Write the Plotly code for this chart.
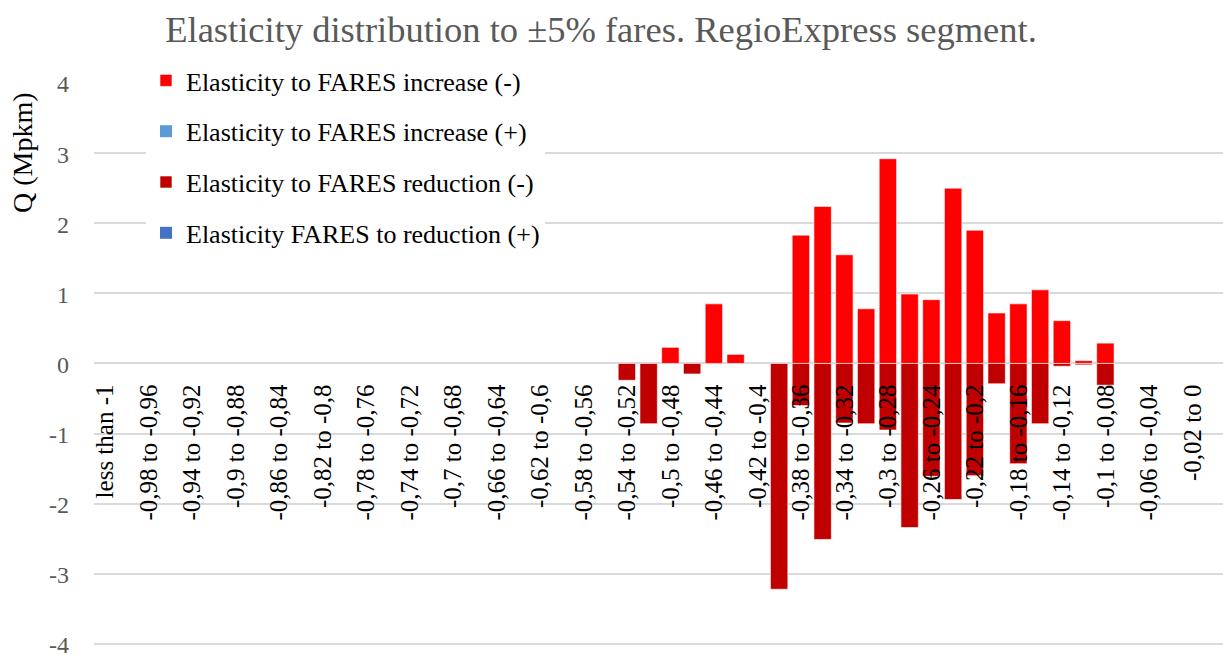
import plotly.graph_objects as go

# ---- data ----
categories = ["less than -1"]
for k in range(1, 51):
    lo = 1 - 0.02 * (k - 1)
    hi = 1 - 0.02 * k
    def fmt(v):
        s = ("%.2f" % v).rstrip("0").rstrip(".")
        return s.replace(".", ",")
    categories.append("-%s to %s" % (fmt(lo), "-" + fmt(hi) if hi > 1e-9 else "0"))

tick_labels = categories[::2]
y_ticks = [-4, -3, -2, -1, 0, 1, 2, 3, 4]
y_tick_text = ["-4", "-3", "-2", "-1", "0", "1", "2", "3", "4"]

# Elasticity to FARES increase (-)  (category index -> Mpkm)
inc_neg_vals = {26: 0.23, 28: 0.85, 29: 0.13, 32: 1.83, 33: 2.24, 34: 1.55,
                35: 0.78, 36: 2.92, 37: 0.99, 38: 0.91, 39: 2.50, 40: 1.90,
                41: 0.72, 42: 0.85, 43: 1.05, 44: 0.61, 45: 0.04, 46: 0.29}
# Elasticity to FARES reduction (-)
red_neg_vals = {24: -0.24, 25: -0.86, 27: -0.15, 31: -3.22, 32: -0.60, 33: -2.51,
                34: -0.85, 35: -0.86, 36: -0.95, 37: -2.34, 38: -1.61, 39: -1.94,
                40: -1.60, 41: -0.29, 42: -1.43, 43: -0.86, 44: -0.04, 45: -0.02,
                46: -0.31}
inc_neg = [inc_neg_vals.get(i) for i in range(len(categories))]
red_neg = [red_neg_vals.get(i) for i in range(len(categories))]
inc_pos = [0.0] * len(categories)   # Elasticity to FARES increase (+)
red_pos = [0.0] * len(categories)   # Elasticity FARES to reduction (+)

FONT = "Liberation Serif"

W, H = 1223, 655
ML, MT, MB = 94, 83, 9
PW = W - ML
PH = H - MT - MB

fig = go.Figure()
series = [
    ("Elasticity to FARES increase (-)", inc_neg, "#FF0000", 0.75),
    ("Elasticity to FARES increase (+)", inc_pos, "#5B9BD5", 0),
    ("Elasticity to FARES reduction (-)", red_neg, "#C00000", 0.75),
    ("Elasticity FARES to reduction (+)", red_pos, "#4472C4", 0),
]
for i, (name, vals, col, lw) in enumerate(series):
    fig.add_trace(go.Bar(
        x=categories, y=vals, name=name, width=0.8,
        marker=dict(color=col, line=dict(color="rgba(255,255,255,0.8)", width=lw)),
        legendgroup="g%d" % i,
    ))

fig.update_layout(
    width=W, height=H,
    margin=dict(l=ML, r=0, t=MT, b=MB, pad=0),
    paper_bgcolor="white", plot_bgcolor="white",
    barmode="overlay",
    font=dict(family=FONT, color="black"),
    title=dict(text="Elasticity distribution to ±5% fares. RegioExpress segment.",
               font=dict(size=36.5, color="#595959", family=FONT),
               x=601 / W, xanchor="center", xref="container",
               y=1 - 29 / H, yanchor="middle", yref="container"),
    showlegend=True,
    legend=dict(x=(146 - ML) / PW, xanchor="left", y=1 + 26 / PH, yanchor="top",
                bgcolor="white", borderwidth=0,
                font=dict(size=26, family=FONT, color="black"),
                tracegroupgap=14, traceorder="grouped"),
    xaxis=dict(type="category", range=[-0.5, -0.5 + PW / 21.75], anchor="free", position=0.5,
               tickmode="array", tickvals=tick_labels, ticktext=tick_labels,
               tickangle=-90, ticks="", ticklabelstandoff=14,
               tickfont=dict(size=25, family=FONT, color="black"),
               showgrid=False, showline=False, zeroline=False, automargin=False),
    yaxis=dict(range=[-4.03, 4], tickmode="array", tickvals=y_ticks, ticktext=y_tick_text,
               showgrid=True, gridcolor="#D9D9D9",
               gridwidth=1.5, zeroline=True, zerolinecolor="#D9D9D9", zerolinewidth=1.5,
               ticks="", ticklabelstandoff=24, ticklabelshift=1, showline=False,
               ticklabeloverflow="allow",
               tickfont=dict(size=24, family=FONT, color="#595959"), automargin=False),
    annotations=[dict(text="Q (Mpkm)", textangle=-90, xref="paper", yref="paper",
                      x=(23 - ML) / PW, y=(646 - 153) / PH,
                      xanchor="center", yanchor="middle", showarrow=False,
                      font=dict(size=28, family=FONT, color="black"))],
)

fig.write_html("out.html", config={"displayModeBar": False},
               post_script="document.body.style.margin='0';")
